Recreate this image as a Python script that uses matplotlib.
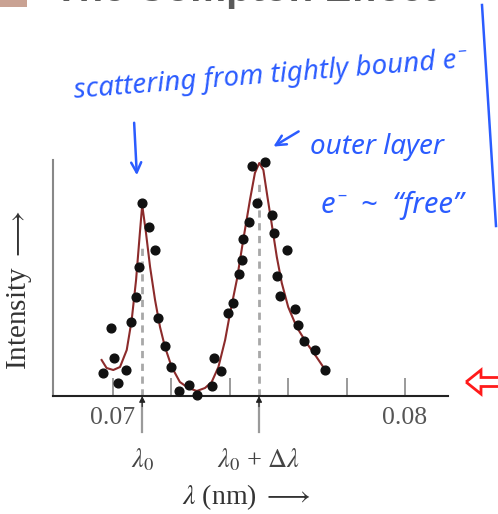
import matplotlib

matplotlib.use("Agg")
import matplotlib.pyplot as plt
import matplotlib.transforms as mtransforms
from matplotlib.patches import FancyArrow, Rectangle

# measured scattered intensity (arb. units) vs wavelength (nm)
wl_pts = [0.06965, 0.06992, 0.07003, 0.07016, 0.07045, 0.07062, 0.07079, 0.07089,
          0.07099, 0.07122, 0.07145, 0.07154, 0.07178, 0.07199, 0.07227, 0.07261,
          0.07287, 0.07338, 0.07346, 0.07371, 0.07393, 0.07411, 0.07432, 0.07441,
          0.07445, 0.07465, 0.07476, 0.07492, 0.07521, 0.07546, 0.07550, 0.07595,
          0.07561, 0.07573, 0.07622, 0.07633, 0.07653, 0.07693, 0.07727]
int_pts = [23, 68, 38, 13, 26, 74, 99, 129, 193, 169, 146, 78, 50, 29, 5, 11,
           1, 10, 38, 25, 83, 93, 122, 136, 157, 174, 230, 193, 234, 181, 163, 146,
           120, 100, 87, 71, 55, 46, 26]

# smooth fit through the two peaks
fit_wl = [0.06961, 0.06978, 0.07001, 0.07024, 0.07047, 0.07064, 0.07079, 0.07092,
          0.07100, 0.07113, 0.07127, 0.07144, 0.07161, 0.07178, 0.07201, 0.07229,
          0.07258, 0.07287, 0.07315, 0.07338, 0.07361, 0.07384, 0.07401, 0.07424,
          0.07446, 0.07469, 0.07486, 0.07501, 0.07515, 0.07529, 0.07543, 0.07561,
          0.07578, 0.07600, 0.07629, 0.07663, 0.07697, 0.07727]
fit_int = [36, 28, 26, 29, 46, 76, 116, 163, 191, 163, 129, 96, 69, 49, 29, 14,
           8, 5, 8, 14, 29, 56, 83, 116, 156, 196, 223, 233, 226, 199, 173, 139,
           113, 89, 69, 53, 39, 26]

lam0 = 0.0710
lam_shift = 0.0750
peak_marks = [lam0, lam_shift]
peak_heights = [150, 213]
peak_labels = [r"$\lambda_0$", r"$\lambda_0$ + $\Delta\lambda$"]

x_ticks = [0.070, 0.072, 0.074, 0.076, 0.078, 0.080]
x_ticklabels = ["0.07", "", "", "", "", "0.08"]

plt.rcParams["font.family"] = ["Liberation Serif", "DejaVu Serif"]
plt.rcParams["mathtext.fontset"] = "stix"

W, H = 498, 514
fig = plt.figure(figsize=(W / 100, H / 100), dpi=100)
ax = fig.add_axes([53 / W, 1 - 396 / H, 395 / W, 236 / H])

ax.vlines(peak_marks, 0, peak_heights, colors="#a8a8a8", linestyles=(0, (2.6, 2.0)),
          lw=2.0, zorder=1)
ax.plot(fit_wl, fit_int, color="#8c2b2b", lw=1.5, zorder=2)
ax.plot(wl_pts, int_pts, "o", color="#111111", ms=6.3, zorder=3, clip_on=False)

ax.set_xlim(0.067945, 0.081473)
ax.set_ylim(0, 236)
ax.set_xticks(x_ticks)
ax.set_xticklabels(x_ticklabels)
ax.set_yticks([])
ax.tick_params(axis="x", direction="in", length=13, width=1.4, color="#9a9a9a",
               labelsize=18.5, labelcolor="#555555", pad=8)
for side in ("top", "right"):
    ax.spines[side].set_visible(False)
ax.spines["left"].set_color("#888888")
ax.spines["left"].set_linewidth(1.5)
ax.spines["bottom"].set_color("#222222")
ax.spines["bottom"].set_linewidth(1.5)

# peak markers under the axis
trans = mtransforms.blended_transform_factory(ax.transData, ax.transAxes)
for xm, lab in zip(peak_marks, peak_labels):
    ax.plot([xm, xm], [-0.153, -0.03], color="#9a9a9a", lw=1.6, transform=trans,
            clip_on=False)
    ax.annotate("", xy=(xm, 0.0), xytext=(xm, -0.045), xycoords=trans,
                arrowprops=dict(arrowstyle="-|>", color="#222222", lw=0.8,
                                mutation_scale=9, shrinkA=0, shrinkB=0))
    ax.text(xm, -0.27, lab, transform=trans, ha="center", va="center",
            fontsize=19, color="#444444")

ax.text(0.49, -0.428, r"$\lambda$ (nm) $\longrightarrow$", transform=ax.transAxes,
        ha="center", va="center", fontsize=20, color="#333333")
ax.text(-0.084, 0.45, r"Intensity $\longrightarrow$", transform=ax.transAxes,
        ha="center", va="center", rotation=90, fontsize=21, color="#333333")

# page overlay in pixel coordinates: heading remnant and pen notes
ov = fig.add_axes([0, 0, 1, 1], zorder=5)
ov.set_xlim(0, W)
ov.set_ylim(H, 0)
ov.axis("off")
ov.patch.set_visible(False)

ov.add_patch(Rectangle((0, 0), 27, 7, color="#c9a293", lw=0))
ov.text(245, 1, "The Compton Effect", ha="center", va="baseline", fontsize=29,
        color="#5a5a5a", family="Liberation Sans", fontweight="bold")

blue = "#2b5cff"
pen = dict(color=blue, family="Noto Sans", style="italic")
ov.text(270, 76, "scattering from tightly bound e\u207b", ha="center", va="center",
        rotation=4.5, fontsize=20, **pen)
ov.text(377, 147, "outer layer", ha="center", va="center", fontsize=20, **pen)
ov.text(392, 205, "e\u207b  ~  \u201cfree\u201d", ha="center", va="center",
        fontsize=21, **pen)
ov.annotate("", xy=(137, 178), xytext=(134, 120),
            arrowprops=dict(arrowstyle="->", color=blue, lw=1.8, mutation_scale=18))
ov.annotate("", xy=(271, 148), xytext=(301, 130),
            arrowprops=dict(arrowstyle="->", color=blue, lw=1.8, mutation_scale=18))
ov.plot([482, 496], [5, 226], color=blue, lw=1.8)

ov.add_patch(FancyArrow(500, 382, -34, 0, width=9, head_width=24, head_length=15,
                        length_includes_head=True, fc="none", ec="#ff1a1a", lw=2))

fig.savefig("out.png", dpi=100)
